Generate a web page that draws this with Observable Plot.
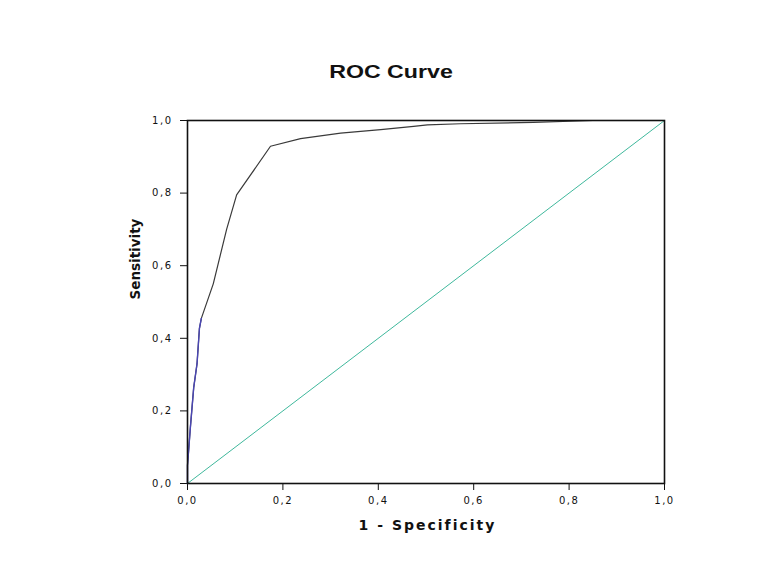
<!DOCTYPE html>
<html>
<head>
<meta charset="utf-8">
<script src="https://cdn.jsdelivr.net/npm/d3@7"></script>
<script src="https://cdn.jsdelivr.net/npm/@observablehq/plot@0.6"></script>
<style>
  html, body { margin: 0; padding: 0; background: #fff; }
  #wrap { position: relative; width: 761px; height: 583px; }
  #title {
    position: absolute; left: 391px; top: 72px;
    transform: translate(-50%, -50%) scaleX(1.22);
    font: bold 19px "Liberation Sans", Arial, sans-serif; color: #111;
    white-space: nowrap;
  }
  #chart { position: absolute; left: 0; top: 100px; }
  #chart svg { overflow: visible; }
  g[aria-label="x-axis tick label"] text, g[aria-label="y-axis tick label"] text {
    letter-spacing: 1.5px;
  }
  .xlab text { letter-spacing: 2px; }
  .ylab text { letter-spacing: 0px; }
</style>
</head>
<body>
<div id="wrap">
  <div id="title">ROC Curve</div>
  <div id="chart"></div>
</div>
<script>
// 1 - Specificity (false positive rate) and Sensitivity
const fpr = [0, 0, 0.006, 0.013, 0.02, 0.025, 0.029, 0.054, 0.082, 0.103, 0.174, 0.237, 0.321, 0.405, 0.474, 0.503, 0.572, 0.725, 0.85, 1];
const tpr = [0, 0.05, 0.154, 0.264, 0.33, 0.427, 0.455, 0.55, 0.70, 0.795, 0.929, 0.95, 0.965, 0.975, 0.984, 0.988, 0.991, 0.995, 1.0, 1.0];
const refX = [0, 1];
const refY = [0, 1];
const ticks = [0, 0.2, 0.4, 0.6, 0.8, 1.0];
const titleText = "ROC Curve";
const xLabel = "1 - Specificity";
const yLabel = "Sensitivity";

const curve = fpr.map((x, i) => ({x, y: tpr[i]}));
const lowCurve = curve.slice(0, 7);
const diag = refX.map((x, i) => ({x, y: refY[i]}));
const fmt = d => d.toFixed(1).replace(".", ",");

const chart = Plot.plot({
  width: 761,
  height: 483,
  marginLeft: 187,
  marginRight: 97,
  marginTop: 20,
  marginBottom: 100,
  style: {fontFamily: '"DejaVu Sans", sans-serif', fontSize: "10px", color: "#111", background: "transparent"},
  x: {domain: [0, 1], ticks: ticks, tickFormat: fmt, tickSize: 7, tickPadding: 6, label: null},
  y: {domain: [0, 1], ticks: ticks, tickFormat: fmt, tickSize: 7, tickPadding: 8, label: null},
  marks: [
    Plot.line(diag, {x: "x", y: "y", stroke: "#3fb89c", strokeWidth: 1}),
    Plot.line(curve, {x: "x", y: "y", stroke: "#3a3a3a", strokeWidth: 1.2}),
    Plot.line(lowCurve, {x: "x", y: "y", stroke: "#4a46b4", strokeWidth: 1.4}),
    Plot.frame({stroke: "#111", strokeWidth: 1.6}),
    Plot.text([xLabel], {frameAnchor: "bottom", dy: 42, dx: 1.5, lineAnchor: "middle", fontWeight: "bold", fontSize: 14, fill: "#111", className: "xlab"}),
    Plot.text([yLabel], {frameAnchor: "left", rotate: -90, dx: -52, dy: -2.5, lineAnchor: "middle", fontWeight: "bold", fontSize: 13.5, fill: "#111", className: "ylab"})
  ]
});
document.getElementById("chart").appendChild(chart);
</script>
</body>
</html>
